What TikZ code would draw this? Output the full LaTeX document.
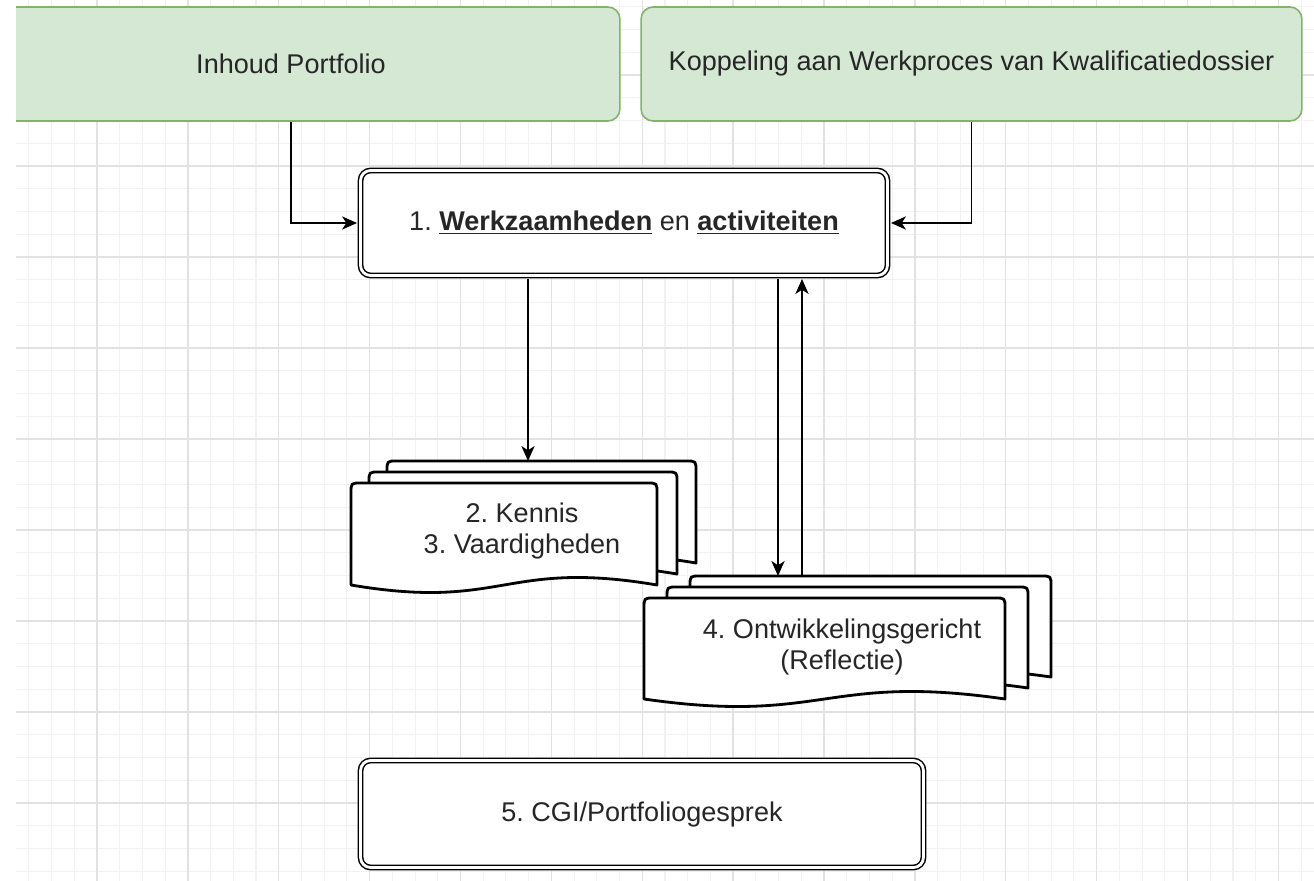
\documentclass[tikz,border=0pt]{standalone}
\usepackage{fontspec}
\setmainfont{Liberation Sans}
\frenchspacing
\usetikzlibrary{arrows.meta}

\definecolor{boxgreen}{HTML}{D5E8D4}
\definecolor{boxgreenline}{HTML}{82B366}
\definecolor{gridmajor}{HTML}{E2E2E2}
\definecolor{gridminor}{HTML}{F1F1F1}

\tikzset{
  source/.style={draw=boxgreenline, fill=boxgreen, line width=0.9pt,
    rounded corners=0.24cm, minimum height=2.28cm, text=black!85},
  stage/.style={draw, double, double distance=1.6pt, line width=0.85pt,
    rounded corners=0.2cm, fill=white, outer sep=2pt, text=black!85},
  doc/.style={draw, fill=white, line width=1.6pt, line join=round},
  doctext/.style={align=center, text=black!85},
  conn/.style={line width=1.05pt, -{Stealth[length=8.5pt,width=7.5pt,inset=2.4pt]}},
  minorline/.style={gridminor, line width=0.6pt},
  majorline/.style={gridmajor, line width=0.8pt},
}

% one page of a stack: left, top, right, bottom
\newcommand{\docpage}[4]{%
  \filldraw[doc] (#1,#4) -- (#1,#2+10) .. controls (#1,#2) .. (#1+10,#2)
    -- (#3-10,#2) .. controls (#3,#2) .. (#3,#2+10) -- (#3,#4)
    .. controls ({(#1+#3)/2},#4-26) and ({(#1+#3)/2},#4+26) .. (#1,#4) -- cycle;}

\begin{document}
\begin{tikzpicture}[x=0.02cm, y=-0.02cm, font=\fontsize{15.4}{17.6}\selectfont]
    \useasboundingbox (0,0) rectangle (1314,881);
    \fill[white] (0,0) rectangle (1314,881);
    \begin{scope}
      \clip (16,0) rectangle (1314,881);
      % grid
      \foreach \i in {1,...,57}
        \draw[minorline] ({6.1+22.72*\i},0) -- ({6.1+22.72*\i},881);
      \foreach \j in {0,...,38}
        \draw[minorline] (16,{6.75+22.75*\j}) -- (1314,{6.75+22.75*\j});
      \foreach \i in {1,...,14}
        \draw[majorline] ({6.1+90.88*\i},0) -- ({6.1+90.88*\i},881);
      \foreach \j in {0,...,8}
        \draw[majorline] (16,{75+91*\j}) -- (1314,{75+91*\j});

      \node[source, minimum width=13.16cm] (inhoud) at (291,64) {Inhoud Portfolio};
      \node[source, minimum width=13.22cm] (koppeling) at (971.5,64)
        {Koppeling aan Werkproces van Kwalificatiedossier};

      \node[stage, minimum width=10.54cm, minimum height=2.1cm] (werk) at (624,223)
        {1. \underline{\textbf{Werkzaamheden}} en \underline{\textbf{activiteiten}}};

      % Kennis / Vaardigheden
      \docpage{387}{461}{696}{563}
      \docpage{369}{472}{677}{574}
      \docpage{351}{483}{657}{585}
      \node[doctext] (kennis) at (522,531) {2. Kennis\\3. Vaardigheden};
      \coordinate (kennis-in) at (528,461);

      % Ontwikkelingsgericht
      \docpage{690}{576}{1051}{677}
      \docpage{667}{587}{1028}{688}
      \docpage{644}{598}{1005}{699}
      \node[doctext] (ontw) at (842,647) {4. Ontwikkelingsgericht\\(Reflectie)};
      \coordinate (ontw-in) at (778,576);
      \coordinate (ontw-out) at (802,576);

      \node[stage, minimum width=11.26cm, minimum height=2.14cm] (gesprek) at (642,814)
        {5. CGI/Portfoliogesprek};

      \draw[conn] (inhoud.south) |- (werk.west);
      \draw[conn] (koppeling.south) |- (werk.east);
      \draw[conn] (werk.south -| kennis-in) -- (kennis-in);
      \draw[conn] (werk.south -| ontw-in) -- (ontw-in);
      \draw[conn] (ontw-out) -- (ontw-out |- werk.south);
    \end{scope}
\end{tikzpicture}
\end{document}
